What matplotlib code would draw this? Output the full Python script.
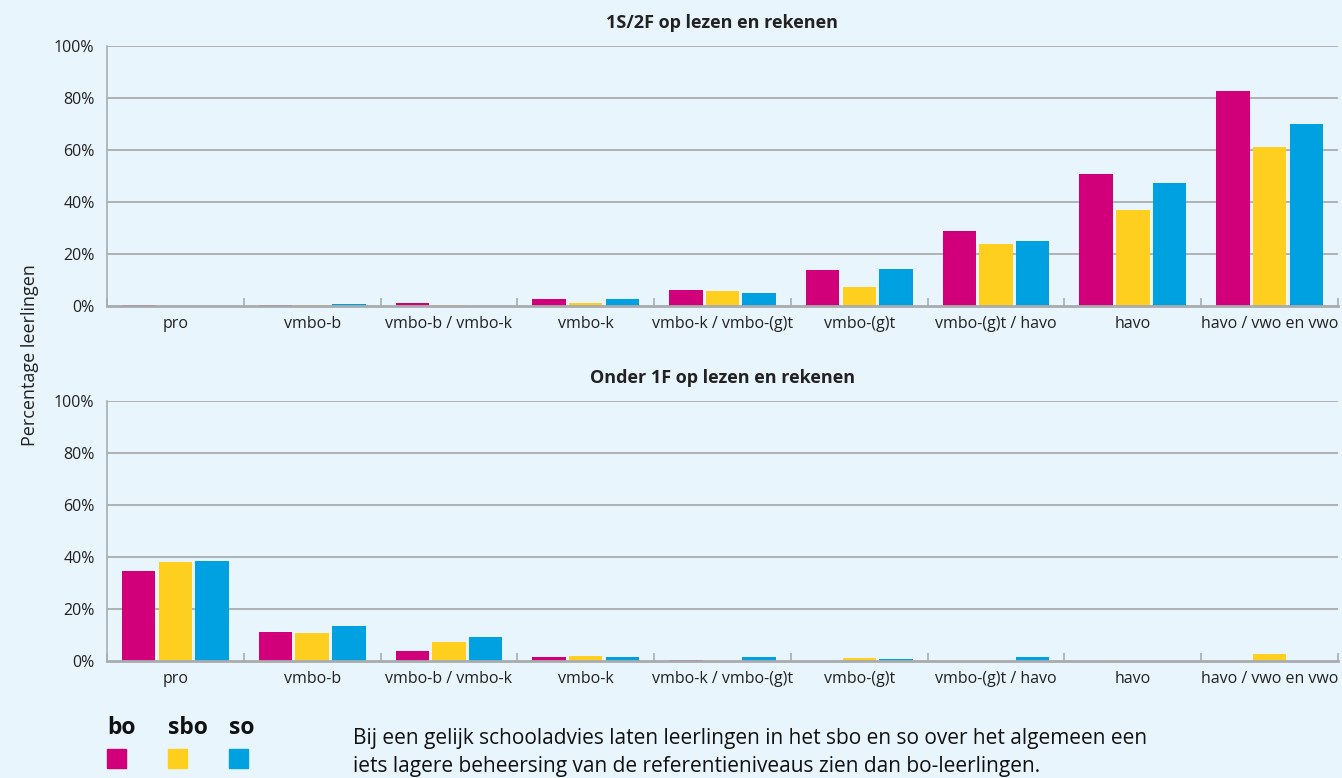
import matplotlib
matplotlib.use("Agg")
import matplotlib.pyplot as plt
import numpy as np
from matplotlib.patches import Rectangle

categories = ["pro", "vmbo-b", "vmbo-b / vmbo-k", "vmbo-k", "vmbo-k / vmbo-(g)t",
              "vmbo-(g)t", "vmbo-(g)t / havo", "havo", "havo / vwo en vwo"]
series = ["bo", "sbo", "so"]

top_bo = [0.3, 0.4, 1.0, 2.7, 6.2, 13.8, 28.8, 50.8, 82.7]
top_sbo = [0.0, 0.2, 0.3, 1.1, 5.8, 7.3, 23.8, 36.9, 61.2]
top_so = [0.0, 0.8, 0.0, 2.7, 5.0, 14.2, 25.0, 47.3, 70.0]

bot_bo = [34.6, 11.2, 3.8, 1.5, 0.3, 0.0, 0.0, 0.0, 0.0]
bot_sbo = [38.1, 10.8, 7.3, 2.0, 0.0, 1.0, 0.0, 0.0, 2.7]
bot_so = [38.5, 13.5, 9.2, 1.5, 1.4, 0.7, 1.4, 0.0, 0.0]

titles = ["1S/2F op lezen en rekenen", "Onder 1F op lezen en rekenen"]
yticks = [0, 20, 40, 60, 80, 100]
ylabel = "Percentage leerlingen"
note = ("Bij een gelijk schooladvies laten leerlingen in het sbo en so over het algemeen een\n"
        "iets lagere beheersing van de referentieniveaus zien dan bo-leerlingen.")

colors = ["#D1007A", "#FFCF1F", "#00A1E1"]
bg = "#E8F5FD"
grid_c = "#A9ACAE"
text_c = "#222222"

plt.rcParams['font.family'] = ['Open Sans', 'DejaVu Sans']

W, H = 1342, 778
fig = plt.figure(figsize=(W / 100, H / 100), dpi=100, facecolor=bg)

def px_axes(left, top, right, bottom):
    return fig.add_axes([left / W, 1 - bottom / H, (right - left) / W, (bottom - top) / H])

ax_top = px_axes(107, 46, 1338, 306)
ax_bot = px_axes(107, 401, 1338, 661)

x = np.arange(len(categories))
bw = 0.245
step = 0.268

for ax, data, title in [(ax_top, [top_bo, top_sbo, top_so], titles[0]),
                        (ax_bot, [bot_bo, bot_sbo, bot_so], titles[1])]:
    ax.set_facecolor(bg)
    for i, vals in enumerate(data):
        ax.bar(x + (i - 1) * step, vals, width=bw, color=colors[i], zorder=3, linewidth=0)
    ax.set_xlim(-0.5, len(categories) - 0.5)
    ax.set_ylim(0, 100)
    ax.set_yticks(yticks)
    ax.set_yticklabels([f"{v}%" for v in yticks], fontsize=11.5, color=text_c)
    ax.set_xticks(x)
    ax.set_xticklabels(categories, fontsize=11.5, color=text_c)
    ax.set_xticks(np.arange(len(categories) + 1) - 0.5, minor=True)
    ax.tick_params(axis='x', which='major', length=0, pad=7)
    ax.tick_params(axis='x', which='minor', direction='in', length=6, color=grid_c, width=1.2)
    ax.tick_params(axis='y', length=0, pad=9)
    for v in yticks[1:]:
        ax.axhline(v, color=grid_c, lw=1.3, zorder=1)
    for s in ['top', 'right']:
        ax.spines[s].set_visible(False)
    ax.spines['left'].set_color(grid_c)
    ax.spines['left'].set_linewidth(1.2)
    ax.spines['bottom'].set_color(grid_c)
    ax.spines['bottom'].set_linewidth(2)
    ax.spines['bottom'].set_zorder(4)
    ax.set_title(title, fontsize=13, fontweight='bold', color=text_c, pad=13)

fig.text(30 / W, 1 - 355 / H, ylabel, rotation=90, ha='center', va='center',
         fontsize=13, color=text_c)

# legend
leg_x = [107, 168, 229]
for lx, name, c in zip(leg_x, series, colors):
    fig.text(lx / W, 1 - 728 / H, name, fontsize=16.5, fontweight='bold', color='#111111',
             ha='left', va='center')
    fig.patches.append(Rectangle((lx / W, 1 - 768 / H), 19 / W, 19 / H,
                                 transform=fig.transFigure, color=c, figure=fig))

fig.text(353 / W, 1 - 728 / H, note, fontsize=15, color='#111111', ha='left', va='top',
         linespacing=1.45)

fig.savefig("out.png", dpi=100, facecolor=bg)
